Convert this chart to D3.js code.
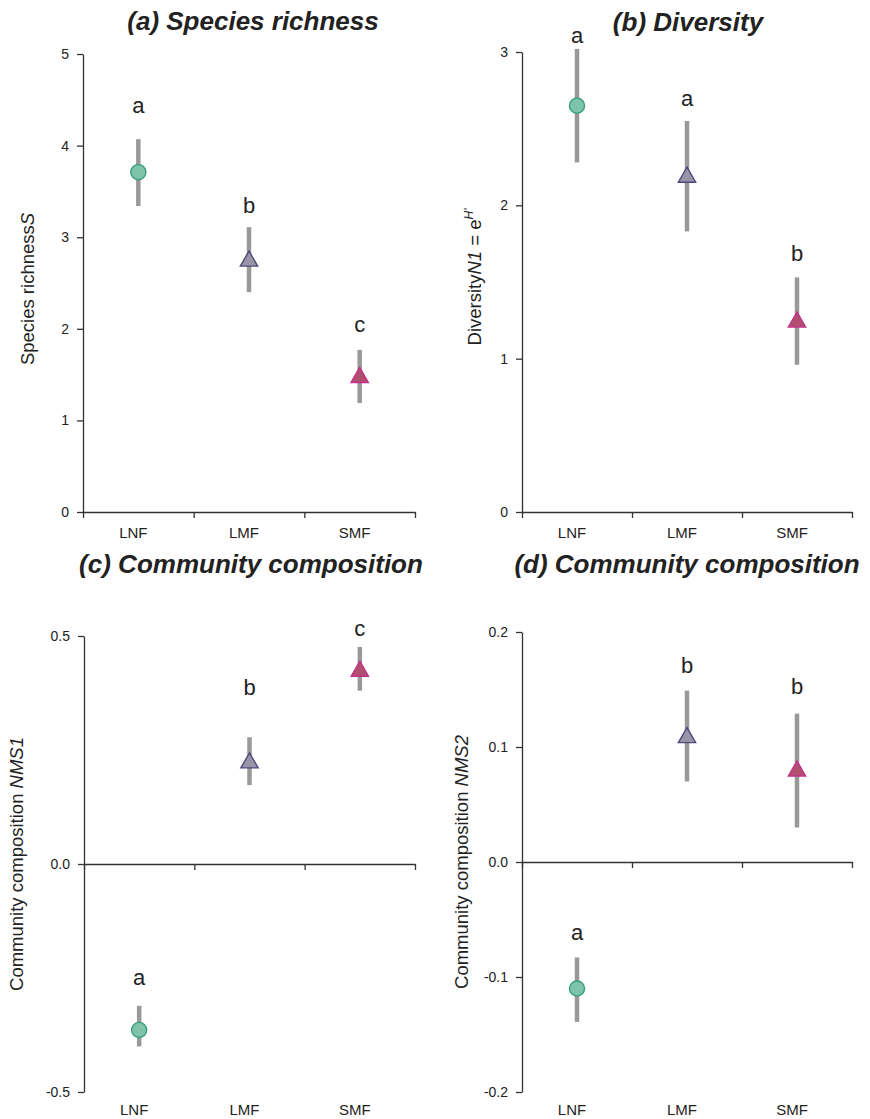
<!DOCTYPE html>
<html lang="en">
<head>
<meta charset="UTF-8">
<title>Species richness, diversity and composition</title>
<style>
  body { margin: 0; background: #fff; font-family: Arial, "Liberation Sans", sans-serif; }
  .tick text { font-size: 14px; fill: #222; font-family: Arial, "Liberation Sans", sans-serif; }
  .domain, .tick line { stroke: #333; stroke-width: 1.3; }
  .title { font-size: 26px; font-weight: bold; font-style: italic; fill: #222; }
  .ylab { font-size: 18.5px; fill: #222; }
  .cat { font-size: 15px; fill: #222; }
  .letter { font-size: 22px; fill: #222; }
  .err { stroke: #999; stroke-width: 4.5; }
</style>
</head>
<body>
<svg id="fig" width="870" height="1119"></svg>
<script src="https://d3js.org/d3.v7.min.js"></script>
<script>
// categories
const sites = ["LNF", "LMF", "SMF"];

// (a) species richness
const richMean  = [3.71, 2.75, 1.48];
const richLow   = [3.34, 2.40, 1.19];
const richHigh  = [4.07, 3.11, 1.77];
const richGroup = ["a", "b", "c"];
const richLetterAt = [4.36, 3.26, 1.97];

// (b) diversity N1
const divMean  = [2.65, 2.19, 1.245];
const divLow   = [2.28, 1.83, 0.96];
const divHigh  = [3.02, 2.55, 1.53];
const divGroup = ["a", "a", "b"];
const divLetterAt = [3.06, 2.65, 1.64];

// (c) NMS1
const nms1Mean  = [-0.364, 0.224, 0.425];
const nms1Low   = [-0.40, 0.173, 0.38];
const nms1High  = [-0.311, 0.278, 0.476];
const nms1Group = ["a", "b", "c"];
const nms1LetterAt = [-0.265, 0.37, 0.50];

// (d) NMS2
const nms2Mean  = [-0.11, 0.109, 0.08];
const nms2Low   = [-0.139, 0.070, 0.030];
const nms2High  = [-0.083, 0.149, 0.129];
const nms2Group = ["a", "b", "b"];
const nms2LetterAt = [-0.068, 0.164, 0.146];

// tick values
const richTicks = [0, 1, 2, 3, 4, 5];
const divTicks  = [0, 1, 2, 3];
const nms1Ticks = [-0.5, 0, 0.5];
const nms2Ticks = [-0.2, -0.1, 0, 0.1, 0.2];

const markFill   = ["#7dc4aa", "#9a94a8", "#b0506e"];
const markStroke = ["#3b9e80", "#4b4a7c", "#c2308c"];

const panels = [
  { title: "(a) Species richness", tx: 253, ty: 30, x0: 83, x1: 415, yTop: 54, yBot: 512,
    domain: [0, 5], ticks: richTicks, fmt: d3.format("d"), catY: 538, axisAt: 0,
    mean: richMean, low: richLow, high: richHigh, group: richGroup, letterAt: richLetterAt,
    ylab: [["Species richness", false], ["S", true]], lx: 34, ly: 6 },
  { title: "(b) Diversity", tx: 688, ty: 31, x0: 522, x1: 852, yTop: 52, yBot: 512,
    domain: [0, 3], ticks: divTicks, fmt: d3.format("d"), catY: 538, axisAt: 0,
    mean: divMean, low: divLow, high: divHigh, group: divGroup, letterAt: divLetterAt,
    ylab: "div", lx: 481, ly: -5 },
  { title: "(c) Community composition", tx: 251, ty: 573, x0: 84, x1: 415, yTop: 636, yBot: 1092,
    domain: [-0.5, 0.5], ticks: nms1Ticks, fmt: d3.format(".1f"), catY: 1115, axisAt: 0,
    mean: nms1Mean, low: nms1Low, high: nms1High, group: nms1Group, letterAt: nms1LetterAt,
    ylab: [["Community composition ", false], ["NMS1", true]], lx: 23, ly: 0 },
  { title: "(d) Community composition", tx: 687, ty: 573, x0: 522, x1: 852, yTop: 632, yBot: 1092,
    domain: [-0.2, 0.2], ticks: nms2Ticks, fmt: d3.format(".1f"), catY: 1115, axisAt: 0,
    mean: nms2Mean, low: nms2Low, high: nms2High, group: nms2Group, letterAt: nms2LetterAt,
    ylab: [["Community composition ", false], ["NMS2", true]], lx: 468, ly: 0 }
];

const svg = d3.select("#fig");

panels.forEach(p => {
  const g = svg.append("g");
  const y = d3.scaleLinear().domain(p.domain).range([p.yBot, p.yTop]);
  const x = d3.scaleBand().domain(sites).range([p.x0, p.x1]).padding(0);
  const edge = d3.scaleLinear().domain([0, sites.length]).range([p.x0, p.x1]);

  // y axis
  g.append("g")
    .attr("transform", `translate(${p.x0},0)`)
    .call(d3.axisLeft(y).tickValues(p.ticks).tickSize(6).tickSizeOuter(0).tickPadding(8)
      .tickFormat(d => p.fmt(d).replace("−", "-")));

  // x axis line at the zero level, ticks at band edges
  g.append("g")
    .attr("transform", `translate(0,${y(p.axisAt)})`)
    .call(d3.axisBottom(edge).tickValues([0, 1, 2, 3]).tickSize(6).tickSizeOuter(0).tickFormat(""));

  // category labels
  g.selectAll(".cat").data(sites).join("text")
    .attr("class", "cat")
    .attr("x", d => x(d) + x.bandwidth() / 2 - 5)
    .attr("y", p.catY)
    .attr("text-anchor", "middle")
    .text(d => d);

  // error bars
  g.selectAll(".err").data(sites).join("line")
    .attr("class", "err")
    .attr("x1", d => x(d) + x.bandwidth() / 2)
    .attr("x2", d => x(d) + x.bandwidth() / 2)
    .attr("y1", (d, i) => y(p.low[i]))
    .attr("y2", (d, i) => y(p.high[i]));

  // markers: circle for LNF, triangles for the others
  sites.forEach((s, i) => {
    const cx = x(s) + x.bandwidth() / 2;
    const cy = y(p.mean[i]);
    const sym = i === 0 ? d3.symbolCircle : d3.symbolTriangle;
    const size = i === 0 ? 180 : 130;
    g.append("path")
      .attr("d", d3.symbol().type(sym).size(size)())
      .attr("transform", `translate(${cx},${cy + (i === 0 ? 0 : 1)})`)
      .attr("fill", markFill[i])
      .attr("stroke", markStroke[i])
      .attr("stroke-width", 1.4);
  });

  // group letters
  g.selectAll(".letter").data(sites).join("text")
    .attr("class", "letter")
    .attr("x", d => x(d) + x.bandwidth() / 2)
    .attr("y", (d, i) => y(p.letterAt[i]))
    .attr("text-anchor", "middle")
    .text((d, i) => p.group[i]);

  // title
  g.append("text")
    .attr("class", "title")
    .attr("x", p.tx)
    .attr("y", p.ty)
    .attr("text-anchor", "middle")
    .text(p.title);

  // y label
  const cyLab = (p.yTop + p.yBot) / 2 + p.ly;
  const lab = g.append("text")
    .attr("class", "ylab")
    .attr("transform", `translate(${p.lx},${cyLab}) rotate(-90)`)
    .attr("text-anchor", "middle");
  if (p.ylab === "div") {
    lab.append("tspan").text("Diversity");
    lab.append("tspan").attr("font-style", "italic").text("N1");
    lab.append("tspan").text(" = e");
    lab.append("tspan").attr("font-style", "italic").attr("font-size", "12px")
      .attr("dy", -8).text("H'");
  } else {
    p.ylab.forEach(([t, it]) => {
      lab.append("tspan").attr("font-style", it ? "italic" : "normal").text(t);
    });
  }
});
</script>
</body>
</html>
